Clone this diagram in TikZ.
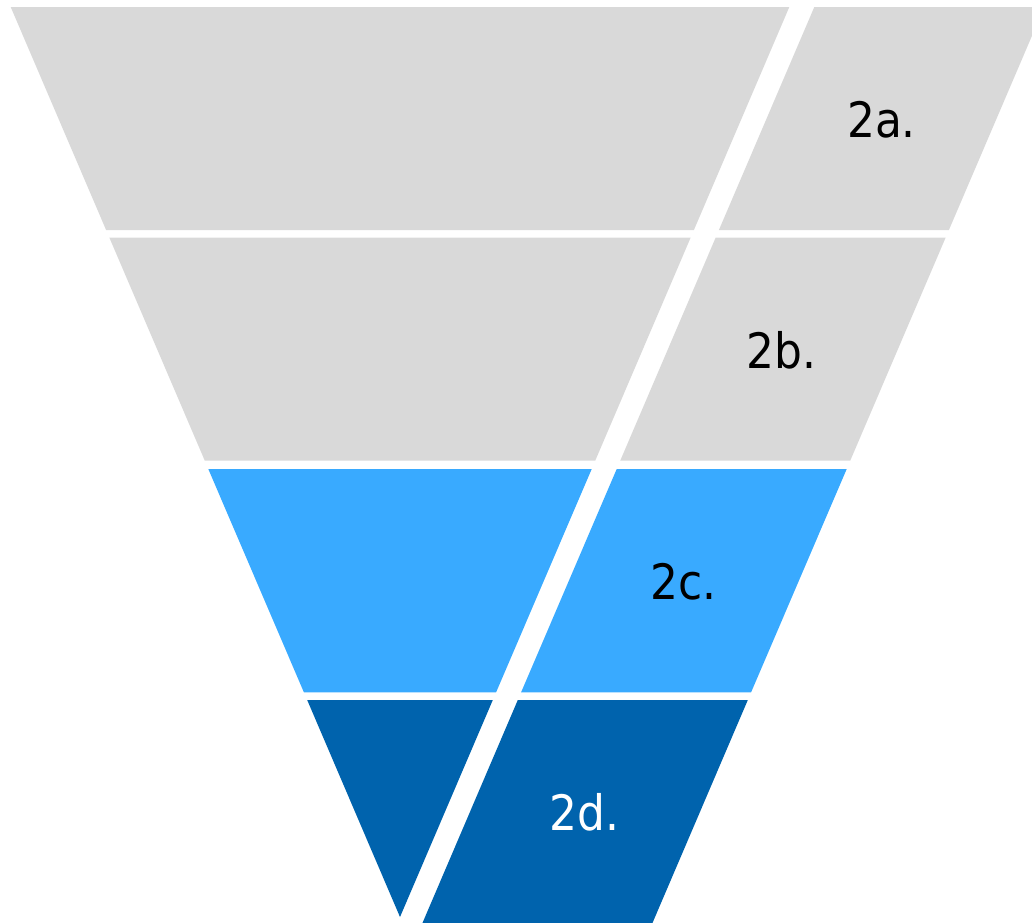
\documentclass[tikz,border=0pt]{standalone}
\usepackage{fontspec}
\setmainfont{DejaVu Sans}[FakeStretch=0.9]
\definecolor{funnelgray}{HTML}{D9D9D9}
\definecolor{funnellight}{HTML}{39AAFF}
\definecolor{funneldark}{HTML}{0063AD}
\tikzset{
  band/.style={fill=#1, draw=none},
  bandlabel/.style={font=\fontsize{48.8}{56}\selectfont, inner sep=0pt, text=#1},
}
\begin{document}
\begin{tikzpicture}[x=1pt,y=-1pt]
  \useasboundingbox (0,0) rectangle (1032,922);
  \clip (0,0) rectangle (1032,922);

  % funnel bands (left part of each stage)
  \fill[band=funnelgray]  (10.7,7) -- (789.3,7) -- (693.9,230) -- (106.1,230) -- cycle;
  \fill[band=funnelgray]  (109.4,237.7) -- (690.6,237.7) -- (595.2,460.7) -- (204.8,460.7) -- cycle;
  \fill[band=funnellight] (208.3,469) -- (591.7,469) -- (496.1,692.3) -- (303.9,692.3) -- cycle;
  \fill[band=funneldark]  (307.2,700) -- (492.8,700) -- (400,917) -- cycle;

  % slanted label panels (right part of each stage)
  \fill[band=funnelgray]  (814.3,7) -- (1044.3,7) -- (948.9,230) -- (718.9,230) -- cycle;
  \fill[band=funnelgray]  (715.6,237.7) -- (945.6,237.7) -- (850.2,460.7) -- (620.2,460.7) -- cycle;
  \fill[band=funnellight] (616.7,469) -- (846.7,469) -- (751.1,692.3) -- (521.1,692.3) -- cycle;
  \fill[band=funneldark]  (517.8,700) -- (747.8,700) -- (651.6,925) -- (421.6,925) -- cycle;

  % stage labels
  \node[bandlabel=black] (l2a) at (881.5,120) {2a.};
  \node[bandlabel=black] (l2b) at (781.5,350) {2b.};
  \node[bandlabel=black] (l2c) at (683.5,582) {2c.};
  \node[bandlabel=white] (l2d) at (584.5,812) {2d.};
\end{tikzpicture}
\end{document}
